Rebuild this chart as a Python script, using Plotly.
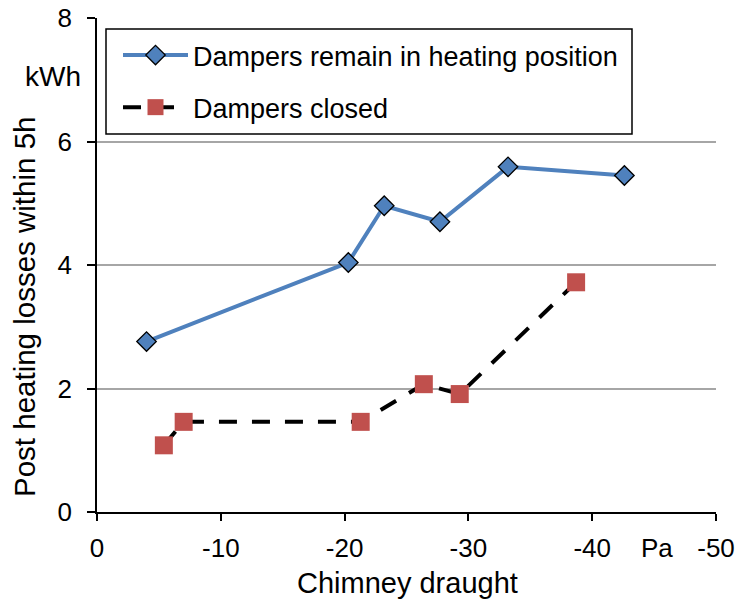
import plotly.graph_objects as go

# Chimney draught (Pa) and post-heating losses within 5 h (kWh)
draught_open = [-4.0, -20.3, -23.2, -27.7, -33.2, -42.6]
losses_open = [2.76, 4.04, 4.96, 4.70, 5.59, 5.45]

draught_closed = [-5.4, -7.0, -21.3, -26.4, -29.3, -38.7]
losses_closed = [1.08, 1.46, 1.46, 2.07, 1.91, 3.72]

x_ticks = [0, -10, -20, -30, -40, -50]
y_ticks = [0, 2, 4, 6, 8]

FONT = "Liberation Sans, Arial, sans-serif"

fig = go.Figure()
fig.add_trace(go.Scatter(
    x=draught_open, y=losses_open, mode="lines+markers",
    name="Dampers remain in heating position", legendgroup="a",
    line=dict(color="#4F81BD", width=4),
    marker=dict(symbol="diamond", size=15, color="#4F81BD",
                line=dict(color="black", width=1.3)),
))
fig.add_trace(go.Scatter(
    x=draught_closed, y=losses_closed, mode="lines+markers",
    name="Dampers closed", legendgroup="b",
    line=dict(color="black", width=4, dash="18px,15px"),
    marker=dict(symbol="square", size=18, color="#C0504D", line=dict(width=0)),
))

# legend frame
fig.add_shape(type="rect", xref="paper", yref="paper",
              x0=(106 - 97) / 619, x1=(632 - 97) / 619,
              y0=(512 - 134) / 494, y1=(512 - 29) / 494,
              line=dict(color="black", width=1.5), fillcolor="white", layer="below")

fig.update_layout(
    width=737, height=604,
    margin=dict(l=97, r=21, t=18, b=92),
    paper_bgcolor="white", plot_bgcolor="white",
    font=dict(family=FONT, size=26, color="black"),
    showlegend=True,
    legend=dict(
        x=(118 - 97) / 619, y=(512 - 31) / 494, xanchor="left", yanchor="top",
        borderwidth=0, bgcolor="rgba(0,0,0,0)",
        font=dict(family=FONT, size=27), itemwidth=65, tracegroupgap=14,
    ),
    xaxis=dict(
        range=[0, -50], tickvals=x_ticks, ticktext=[str(v) for v in x_ticks],
        showgrid=False, zeroline=False, showline=True, linecolor="black", linewidth=1.5,
        ticks="outside", ticklen=7, tickcolor="black", tickwidth=1.5,
        ticklabelstandoff=5, automargin=False,
    ),
    yaxis=dict(
        range=[0, 8], tickvals=y_ticks,
        showgrid=True, gridcolor="#A6A6A6", gridwidth=1.5, zeroline=False,
        showline=True, linecolor="black", linewidth=1.5,
        ticks="outside", ticklen=8, tickcolor="black", tickwidth=1.5,
        ticklabelstandoff=10, automargin=False,
    ),
    annotations=[
        dict(text="Post heating losses within 5h", textangle=-90,
             xref="paper", yref="paper", x=(24 - 97) / 619, y=(512 - 307) / 494,
             xanchor="center", yanchor="middle", showarrow=False,
             font=dict(family=FONT, size=29.5)),
        dict(text="Chimney draught", xref="paper", yref="paper",
             x=(407 - 97) / 619, y=(512 - 583) / 494,
             xanchor="center", yanchor="middle", showarrow=False,
             font=dict(family=FONT, size=29)),
        dict(text="kWh", xref="paper", yref="paper", x=(83 - 97) / 619, y=(512 - 76) / 494,
             xanchor="right", yanchor="middle", showarrow=False,
             font=dict(family=FONT, size=28)),
        dict(text="Pa", xref="x", yref="paper", x=-45.2, y=(512 - 548) / 494,
             xanchor="center", yanchor="middle", showarrow=False,
             font=dict(family=FONT, size=26)),
    ],
)

fig.write_html("out.html")
